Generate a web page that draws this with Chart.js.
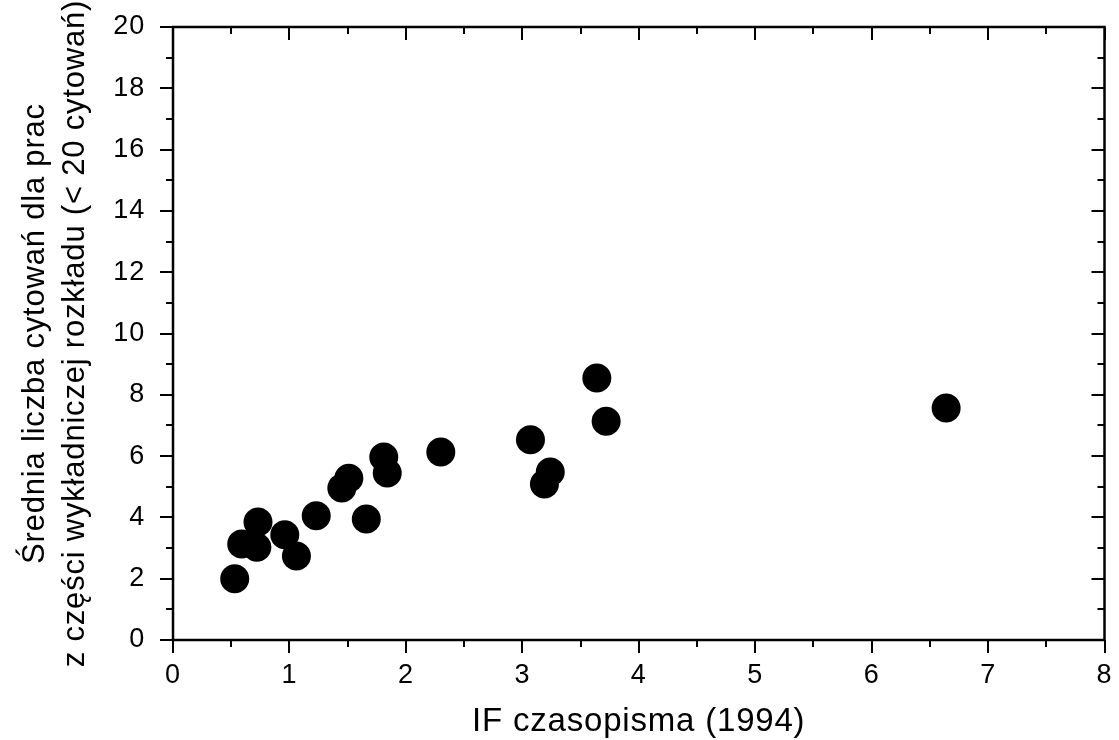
<!DOCTYPE html>
<html>
<head>
<meta charset="utf-8">
<script src="https://cdn.jsdelivr.net/npm/chart.js@4.4.1/dist/chart.umd.min.js"></script>
<style>
  html, body { margin: 0; padding: 0; background: #ffffff; }
  #wrap { position: absolute; left: 0; top: 0; width: 1119px; height: 740px; }
</style>
</head>
<body>
<div id="wrap"><canvas id="c" width="1119" height="740"></canvas></div>
<script>
// Data
const impactFactor = [0.53, 0.59, 0.72, 0.73, 0.96, 1.06, 1.23, 1.45, 1.51, 1.66, 1.81, 1.84, 2.30, 3.07, 3.19, 3.24, 3.64, 3.72, 6.64];
const meanCitations = [2.00, 3.13, 3.03, 3.85, 3.43, 2.74, 4.05, 4.96, 5.28, 3.95, 5.97, 5.45, 6.13, 6.53, 5.09, 5.48, 8.55, 7.14, 7.57];
const xTitle = 'IF czasopisma (1994)';
const yTitle = ['Średnia liczba cytowań dla prac', 'z części wykładniczej rozkładu (< 20 cytowań)'];
const xRange = [0, 8];
const yRange = [0, 20];

const points = impactFactor.map((x, i) => ({ x: x, y: meanCitations[i] }));

const spacing = {
  id: 'spacing',
  beforeUpdate(chart) { chart.ctx.letterSpacing = '0.8px'; },
  beforeDraw(chart) { chart.ctx.letterSpacing = '0.8px'; }
};

const frameTicks = {
  id: 'frameTicks',
  afterDraw(chart) {
    const ctx = chart.ctx;
    const a = chart.chartArea;
    const xs = chart.scales.x, ys = chart.scales.y;
    ctx.save();
    ctx.strokeStyle = '#000';
    ctx.lineWidth = 2.5;
    ctx.strokeRect(a.left, a.top, a.right - a.left, a.bottom - a.top);
    ctx.lineWidth = 2;
    ctx.beginPath();
    for (let v = xRange[0]; v <= xRange[1] + 1e-9; v += 0.5) {
      const px = Math.round(xs.getPixelForValue(v));
      const len = (Math.abs(v - Math.round(v)) < 1e-9) ? 13 : 7;
      ctx.moveTo(px, a.bottom); ctx.lineTo(px, a.bottom + len);
      ctx.moveTo(px, a.top); ctx.lineTo(px, a.top + len);
    }
    for (let v = yRange[0]; v <= yRange[1] + 1e-9; v += 1) {
      const py = Math.round(ys.getPixelForValue(v));
      const len = (v % 2 === 0) ? 13 : 7;
      ctx.moveTo(a.left - len, py); ctx.lineTo(a.left, py);
      ctx.moveTo(a.right - len, py); ctx.lineTo(a.right, py);
    }
    ctx.stroke();
    ctx.restore();
  }
};

new Chart(document.getElementById('c'), {
  type: 'scatter',
  data: {
    datasets: [{
      data: points,
      pointRadius: 14.5,
      pointHoverRadius: 14.5,
      pointBackgroundColor: '#000',
      pointBorderColor: '#000',
      pointBorderWidth: 0,
      pointStyle: 'circle'
    }]
  },
  options: {
    responsive: false,
    animation: false,
    devicePixelRatio: 1,
    layout: { padding: { left: 0, top: 27, right: 9, bottom: 0 } },
    plugins: { legend: { display: false }, tooltip: { enabled: false } },
    scales: {
      x: {
        type: 'linear',
        min: xRange[0], max: xRange[1],
        grid: { display: false, drawTicks: false },
        border: { display: false },
        ticks: { stepSize: 1, padding: 19, color: '#000', font: { family: '"Liberation Sans", Arial, sans-serif', size: 27 } },
        title: { display: true, text: xTitle, color: '#000', font: { family: '"Liberation Sans", Arial, sans-serif', size: 33, lineHeight: 1 }, padding: { top: 0, bottom: 2 } },
        afterFit(scale) { scale.height = 100; scale.paddingLeft = 0; scale.paddingRight = 0; }
      },
      y: {
        type: 'linear',
        min: yRange[0], max: yRange[1],
        grid: { display: false, drawTicks: false },
        border: { display: false },
        ticks: { stepSize: 2, padding: 28, color: '#000', font: { family: '"Liberation Sans", Arial, sans-serif', size: 27 } },
        title: { display: true, text: yTitle, color: '#000', font: { family: '"Liberation Sans", Arial, sans-serif', size: 31, lineHeight: 1.28 }, padding: { top: 16, bottom: 0 } },
        afterFit(scale) { scale.width = 173; scale.paddingTop = 0; scale.paddingBottom = 0; }
      }
    }
  },
  plugins: [spacing, frameTicks]
});
</script>
</body>
</html>
